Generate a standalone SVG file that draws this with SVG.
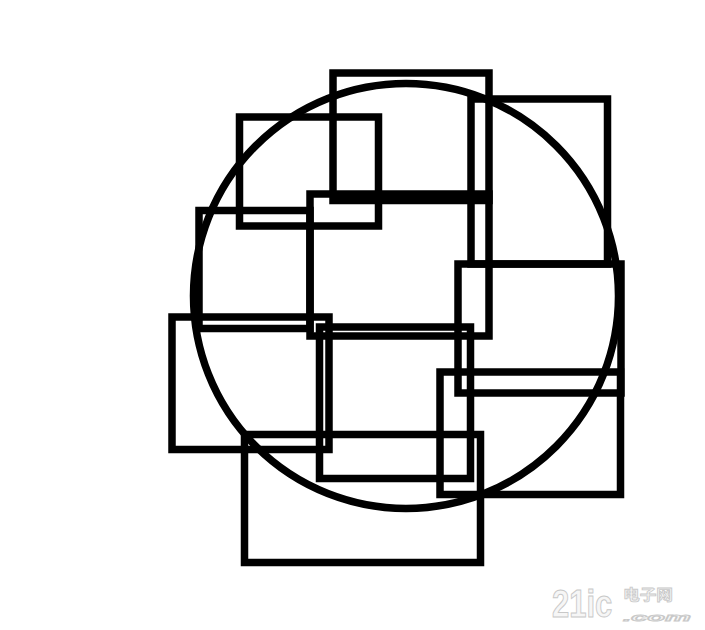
<svg xmlns="http://www.w3.org/2000/svg" width="705" height="630" viewBox="0 0 705 630">
<style>
.s{fill:none;stroke:#000;stroke-width:7.5}
.wm{fill:#f6f6f6;stroke:#c8c8c8;stroke-width:0.8;font-family:"Liberation Sans","Noto Sans CJK SC",sans-serif;font-weight:bold}
</style>
<rect width="705" height="630" fill="#fff"/>
<g id="circle"><circle class="s" cx="406" cy="296" r="212.5"/></g>
<g id="rectA"><rect class="s" x="333" y="73" width="156" height="127.5"/></g>
<g id="rectB"><rect class="s" x="310" y="194" width="179" height="142"/></g>
<g id="rectC"><rect class="s" x="471" y="99" width="136.5" height="165"/></g>
<g id="rectD"><rect class="s" x="458" y="264" width="163" height="129"/></g>
<g id="rectE"><rect class="s" x="319.5" y="327" width="151" height="151.5"/></g>
<g id="rectF"><rect class="s" x="440" y="372" width="180.5" height="122.5"/></g>
<g id="rectG"><rect class="s" x="244.5" y="434.5" width="236" height="128"/></g>
<g id="rectH"><rect class="s" x="199" y="210.5" width="111" height="118"/></g>
<g id="rectI"><rect class="s" x="172" y="317" width="157" height="132.5"/></g>
<g id="rectJ"><rect class="s" x="239.5" y="117" width="139" height="109"/></g>
<g id="watermark">
<text class="wm" transform="translate(552,617) scale(1,1.25)" x="0" y="0" font-size="31">21ic</text>
<text class="wm" x="623" y="600" font-size="15" textLength="50" lengthAdjust="spacingAndGlyphs">电子网</text>
<text class="wm" x="623" y="621" font-size="11" font-style="italic" textLength="68" lengthAdjust="spacingAndGlyphs">.com</text>
</g>
</svg>
